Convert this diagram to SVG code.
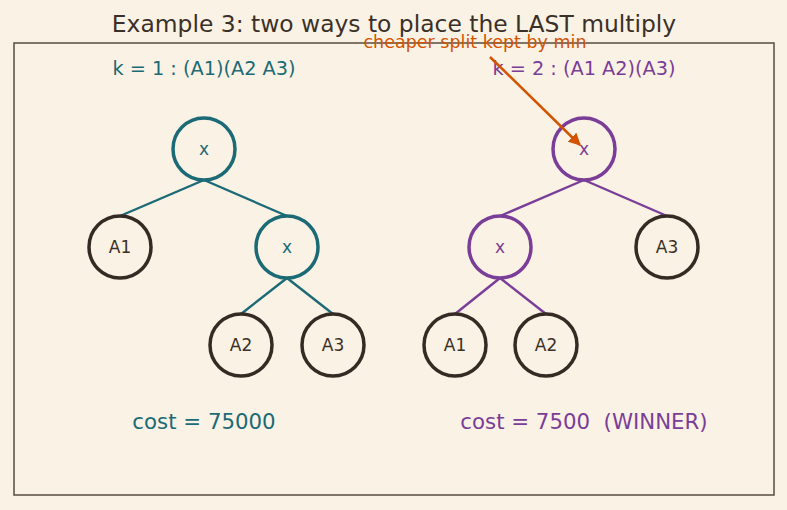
<svg xmlns="http://www.w3.org/2000/svg" width="787" height="510" viewBox="0 0 787 510">
<style>
text{font-family:"DejaVu Sans","Liberation Sans",sans-serif}
.t{fill:#1b6a76}.p{fill:#7a3d98}.d{fill:#3a3028}
.nt{fill:#faf2e4;stroke:#1b6a76;stroke-width:3.5}
.np{fill:#faf2e4;stroke:#7a3d98;stroke-width:3.5}
.nl{fill:#faf2e4;stroke:#352b24;stroke-width:3.5}
.lbl{font-size:17px;text-anchor:middle;dominant-baseline:central}
.et{stroke:#1b6a76;stroke-width:2.4}
.ep{stroke:#7a3d98;stroke-width:2.4}
</style>
<defs>
<marker id="ah" viewBox="0 0 10 10" refX="9" refY="5" markerWidth="5" markerHeight="5" orient="auto"><path d="M0,0 L10,5 L0,10 z" fill="#d35400"/></marker>
</defs>
<rect width="787" height="510" fill="#faf2e4"/>
<rect x="14" y="43" width="760" height="452" fill="none" stroke="#5a4c40" stroke-width="1.5"/>
<text x="394" y="32" font-size="23.4" text-anchor="middle" class="d">Example 3: two ways to place the LAST multiply</text>
<text x="204" y="75" font-size="19.3" text-anchor="middle" class="t">k = 1 : (A1)(A2 A3)</text>
<text x="584" y="75" font-size="19.3" text-anchor="middle" class="p">k = 2 : (A1 A2)(A3)</text>
<g id="connectors">
<line class="et" x1="204" y1="180" x2="120" y2="216"/>
<line class="et" x1="204" y1="180" x2="287" y2="216"/>
<line class="et" x1="287" y1="278" x2="241" y2="314"/>
<line class="et" x1="287" y1="278" x2="333" y2="314"/>
<line class="ep" x1="584" y1="180" x2="500" y2="216"/>
<line class="ep" x1="584" y1="180" x2="667" y2="216"/>
<line class="ep" x1="500" y1="278" x2="455" y2="314"/>
<line class="ep" x1="500" y1="278" x2="546" y2="314"/>
</g>
<g id="L_root"><circle class="nt" cx="204" cy="149" r="31"/><text class="lbl t" x="204" y="149">x</text></g>
<g id="L_A1"><circle class="nl" cx="120" cy="247" r="31"/><text class="lbl d" x="120" y="247">A1</text></g>
<g id="L_x"><circle class="nt" cx="287" cy="247" r="31"/><text class="lbl t" x="287" y="247">x</text></g>
<g id="L_A2"><circle class="nl" cx="241" cy="345" r="31"/><text class="lbl d" x="241" y="345">A2</text></g>
<g id="L_A3"><circle class="nl" cx="333" cy="345" r="31"/><text class="lbl d" x="333" y="345">A3</text></g>
<g id="R_root"><circle class="np" cx="584" cy="149" r="31"/><text class="lbl p" x="584" y="149">x</text></g>
<g id="R_x"><circle class="np" cx="500" cy="247" r="31"/><text class="lbl p" x="500" y="247">x</text></g>
<g id="R_A3"><circle class="nl" cx="667" cy="247" r="31"/><text class="lbl d" x="667" y="247">A3</text></g>
<g id="R_A1"><circle class="nl" cx="455" cy="345" r="31"/><text class="lbl d" x="455" y="345">A1</text></g>
<g id="R_A2"><circle class="nl" cx="546" cy="345" r="31"/><text class="lbl d" x="546" y="345">A2</text></g>
<g id="annotation">
<line x1="490" y1="57" x2="580" y2="145" stroke="#d35400" stroke-width="2.5" marker-end="url(#ah)"/>
<text x="475" y="48" font-size="17.5" text-anchor="middle" fill="#d35400">cheaper split kept by min</text>
</g>
<text x="204" y="429" font-size="21.3" text-anchor="middle" class="t">cost = 75000</text>
<text x="584" y="429" font-size="21.3" text-anchor="middle" class="p" xml:space="preserve">cost = 7500  (WINNER)</text>
</svg>
